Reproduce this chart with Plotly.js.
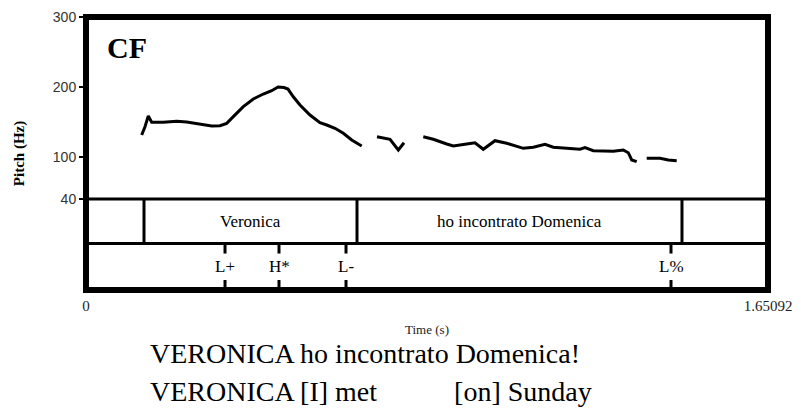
<!DOCTYPE html>
<html><head><meta charset="utf-8">
<script src="https://cdn.plot.ly/plotly-3.0.1.min.js"></script>
<style>html,body{margin:0;padding:0;background:#fff}#chart{width:801px;height:408px}</style>
</head><body><div id="chart"></div>
<script>
// Pitch contour (time in s, pitch in Hz); null separates voiced stretches
const pitchTime = [0.1348,0.1428,0.1508,0.1590,0.1871,0.2196,0.2438,0.2680,0.2801,0.3043,0.3244,0.3406,0.3566,0.3808,0.4050,0.4292,0.4495,0.4648,0.4793,0.4890,0.5018,0.5180,0.5422,0.5664,0.5827,0.6028,0.6229,0.6432,0.6674,
  0.69,
  0.7044,0.7359,0.7560,0.7698,
  0.79,
  0.8165,0.8407,0.8732,0.8891,0.9216,0.9416,0.9617,0.9901,1.0184,1.0586,1.0828,1.1111,1.1312,1.1796,1.1958,1.2079,1.2280,1.2764,1.3006,1.3127,1.3210,1.3331,
  1.345,
  1.3573,1.3895,1.4096,1.4299];
const pitchHz = [131.4,143.3,158.6,149.6,149.6,151.0,150.0,148.1,146.7,144.3,144.7,148.1,157.6,171.9,182.9,190.0,194.7,200.0,199.3,197.1,186.1,174.3,160.0,149.0,145.7,141.0,133.9,124.3,115.7,
  null,
  129.0,125.3,110.0,120.4,
  null,
  129.0,125.3,118.6,115.7,118.6,120.4,111.0,123.3,119.6,112.4,113.9,118.1,113.9,111.9,111.0,113.3,109.0,108.1,110.0,106.1,95.7,93.3,
  null,
  98.1,98.1,95.7,94.7];

// Word tier: interval boundaries (s) and labels
const wordBounds = [0, 0.1404, 0.656, 1.4427, 1.65092];
const wordLabels = ['', 'Veronica', 'ho incontrato Domenica', ''];

// Tone tier: point times (s) and labels
const toneTimes = [0.3365, 0.4672, 0.6294, 1.4161];
const toneLabels = ['L+', 'H*', 'L-', 'L%'];

// Axis ticks
const yTickVals = [40, 100, 200, 300];
const xTickVals = [0, 1.65092];
const xTickText = ['0', '1.65092'];

const panelLabel = 'CF';
const NB = '\u00a0';
const sentenceLines = ['VERONICA ho incontrato Domenica!',
  'VERONICA [I] met' + NB.repeat(11) + '[on] Sunday'];

// ---- layout geometry (in y-axis units) ----
const Y_MIN = -90, Y_MAX = 300;
const TIER_TOP = 40, TIER_MID = -23.6, TIER_BOT = Y_MIN;
const TICK_LEN = 14.3;

const serif = '"Liberation Serif", "Times New Roman", serif';
const sans = '"Liberation Sans", Arial, sans-serif';

const shapes = [];
// horizontal lines of tiers
shapes.push({type:'line', xref:'paper', x0:0, x1:1, yref:'y', y0:TIER_TOP, y1:TIER_TOP, line:{color:'#000', width:3}});
shapes.push({type:'line', xref:'paper', x0:0, x1:1, yref:'y', y0:TIER_MID, y1:TIER_MID, line:{color:'#000', width:3}});
// word boundaries (interior)
wordBounds.slice(1, -1).forEach(t => {
  shapes.push({type:'line', xref:'x', x0:t, x1:t, yref:'y', y0:TIER_TOP, y1:TIER_MID, line:{color:'#000', width:3}});
});
// tone ticks
toneTimes.forEach(t => {
  shapes.push({type:'line', xref:'x', x0:t, x1:t, yref:'y', y0:TIER_MID, y1:TIER_MID - TICK_LEN, line:{color:'#000', width:3}});
  shapes.push({type:'line', xref:'x', x0:t, x1:t, yref:'y', y0:TIER_BOT + TICK_LEN, y1:TIER_BOT, line:{color:'#000', width:3}});
});
// frame
shapes.push({type:'rect', xref:'paper', yref:'paper', x0:0, x1:1, y0:0, y1:1, line:{color:'#000', width:6}});

const annotations = [];
wordLabels.forEach((lab, i) => {
  if (!lab) return;
  annotations.push({xref:'x', yref:'y', x:(wordBounds[i] + wordBounds[i+1]) / 2, y:(TIER_TOP + TIER_MID) / 2,
    text:lab, showarrow:false, font:{family:serif, size:17, color:'#000'}, xanchor:'center', yanchor:'middle'});
});
toneLabels.forEach((lab, i) => {
  annotations.push({xref:'x', yref:'y', x:toneTimes[i], y:(TIER_MID + TIER_BOT) / 2,
    text:lab, showarrow:false, font:{family:serif, size:17, color:'#000'}, xanchor:'center', yanchor:'middle'});
});
annotations.push({xref:'paper', yref:'paper', x:0.028, y:0.89, text:'<b>' + panelLabel + '</b>', showarrow:false,
  xanchor:'left', yanchor:'middle', font:{family:serif, size:30, color:'#000'}});
sentenceLines.forEach((s, i) => {
  annotations.push({xref:'paper', yref:'paper', x:0.0909, y:[-0.2344, -0.3736][i], text:s, showarrow:false,
    xanchor:'left', yanchor:'middle', font:{family:serif, size:28, color:'#000'}});
});

const data = [{
  type:'scatter', mode:'lines', x:pitchTime, y:pitchHz, connectgaps:false,
  line:{color:'#000', width:3}, hoverinfo:'skip', showlegend:false
}];

const layout = {
  width:801, height:408,
  margin:{l:86, r:33, t:17, b:118, pad:0},
  paper_bgcolor:'#fff', plot_bgcolor:'#fff',
  showlegend:false,
  xaxis:{range:[0, 1.65092], showgrid:false, zeroline:false, showline:false,
    tickmode:'array', tickvals:xTickVals, ticktext:xTickText,
    ticks:'outside', ticklen:2, tickcolor:'rgba(0,0,0,0)',
    tickfont:{family:serif, size:15, color:'#222'},
    title:{text:'Time (s)', font:{family:serif, size:13, color:'#222'}, standoff:11}},
  yaxis:{range:[Y_MIN, Y_MAX], showgrid:false, zeroline:false, showline:false,
    tickmode:'array', tickvals:yTickVals,
    ticks:'outside', ticklen:6, tickwidth:2, tickcolor:'#000',
    tickfont:{family:sans, size:14, color:'#333'},
    title:{text:'<b>Pitch (Hz)</b>', font:{family:serif, size:15, color:'#000'}, standoff:24}},
  shapes:shapes,
  annotations:annotations
};

Plotly.newPlot('chart', data, layout, {displayModeBar:false, staticPlot:true});
</script>
</body></html>
